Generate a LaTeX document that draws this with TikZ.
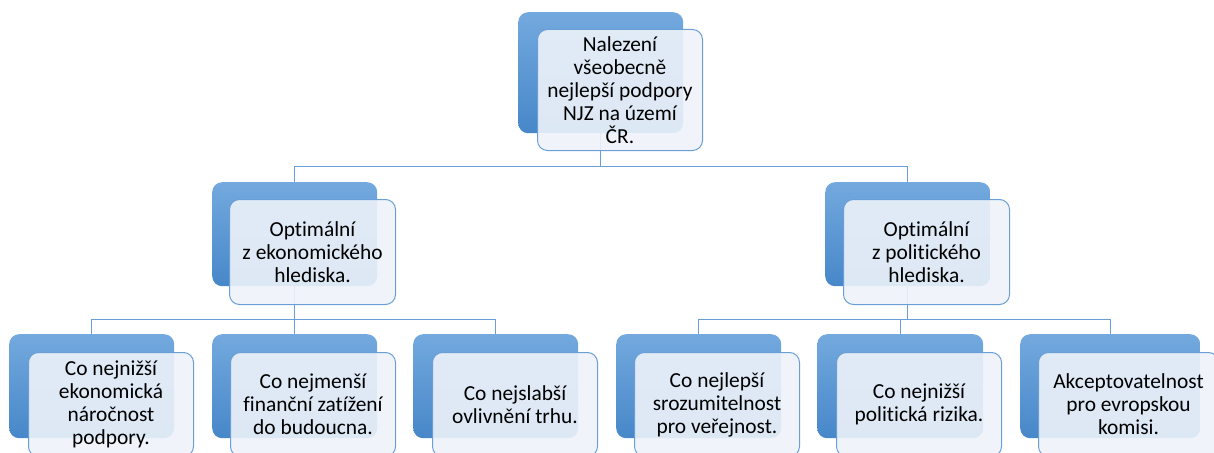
\documentclass[tikz,border=0pt]{standalone}
\usepackage{fontspec}
\setmainfont{Carlito}[Ligatures={NoCommon,NoContextual}]
\definecolor{btop}{HTML}{73A9DE}
\definecolor{bbot}{HTML}{4787C9}
\definecolor{frfill}{HTML}{EEF3FA}
\definecolor{lncol}{HTML}{6A9ED6}
\pgfdeclarelayer{bg}
\pgfsetlayers{bg,main}
\newcommand{\nolig}{\kern0pt{}}
\tikzset{
  backbox/.style 2 args={rounded corners=10pt, top color=btop, bottom color=bbot, draw=none,
    anchor=north west, inner sep=0pt, minimum width=#1pt, minimum height=#2pt},
  frontbox/.style 2 args={rounded corners=10pt, fill=frfill, fill opacity=0.9, text opacity=1,
    draw=lncol, line width=1pt, anchor=north west, inner sep=0pt,
    minimum width=#1pt, minimum height=#2pt, align=center, text=black,
    font=\fontsize{21.4}{23}\selectfont},
  conn/.style={draw=lncol, line width=1.3pt}
}
\begin{document}
\begin{tikzpicture}[x=1pt,y=-1pt]
\useasboundingbox (0,0) rectangle (1214,452);
\clip (0,0) rectangle (1214,452);
% level 1
\node[backbox={165}{121}] (t) at (518,12) {};
\node[frontbox={165}{121}] (tf) at (537,29) {Nalezení\\všeobecně\\nejlepší podpory\\NJZ na území\\ČR.};
% level 2
\node[backbox={165}{104}] (a) at (212,182) {};
\node[frontbox={166}{105}] (af) at (229,199) {Opt\nolig imální\\z ekonomického\\hlediska.};
\node[backbox={165}{104}] (b) at (825,182) {};
\node[frontbox={166}{105}] (bf) at (843,199) {Opt\nolig imální\\z polit\nolig ického\\hlediska.};
% level 3
\node[backbox={165}{104}] (a1) at (9,334) {};
\node[frontbox={165}{104}] (a1f) at (28,352) {Co nejnižší\\ekonomická\\náročnost\\podpory.};
\node[backbox={165}{104}] (a2) at (212,334) {};
\node[frontbox={165}{104}] (a2f) at (230,352) {Co nejmenší\\finanční zatížení\\do budoucna.};
\node[backbox={165}{104}] (a3) at (413,334) {};
\node[frontbox={165}{104}] (a3f) at (432,352) {Co nejslabší\\ovlivnění trhu.};
\node[backbox={165}{104}] (b1) at (616,334) {};
\node[frontbox={165}{104}] (b1f) at (634,352) {Co nejlepší\\srozumitelnost\\pro veřejnost.};
\node[backbox={166}{104}] (b2) at (817,334) {};
\node[frontbox={165}{104}] (b2f) at (836,352) {Co nejnižší\\polit\nolig ická rizika.};
\node[backbox={180}{104}] (b3) at (1020,334) {};
\node[frontbox={180}{104}] (b3f) at (1038,352) {Akceptovatelnost\\pro evropskou\\komisi.};
% connectors
\begin{pgfonlayer}{bg}
\draw[conn] (t.south) -- ++(0,33) -| (a.north);
\draw[conn] (t.south) -- ++(0,33) -| (b.north);
\draw[conn] (a.south) -- ++(0,33) -| (a1.north);
\draw[conn] (a.south) -- ++(0,33) -| (a2.north);
\draw[conn] (a.south) -- ++(0,33) -| (a3.north);
\draw[conn] (b.south) -- ++(0,33) -| (b1.north);
\draw[conn] (b.south) -- ++(0,33) -| (b2.north);
\draw[conn] (b.south) -- ++(0,33) -| (b3.north);
\end{pgfonlayer}
\end{tikzpicture}
\end{document}
